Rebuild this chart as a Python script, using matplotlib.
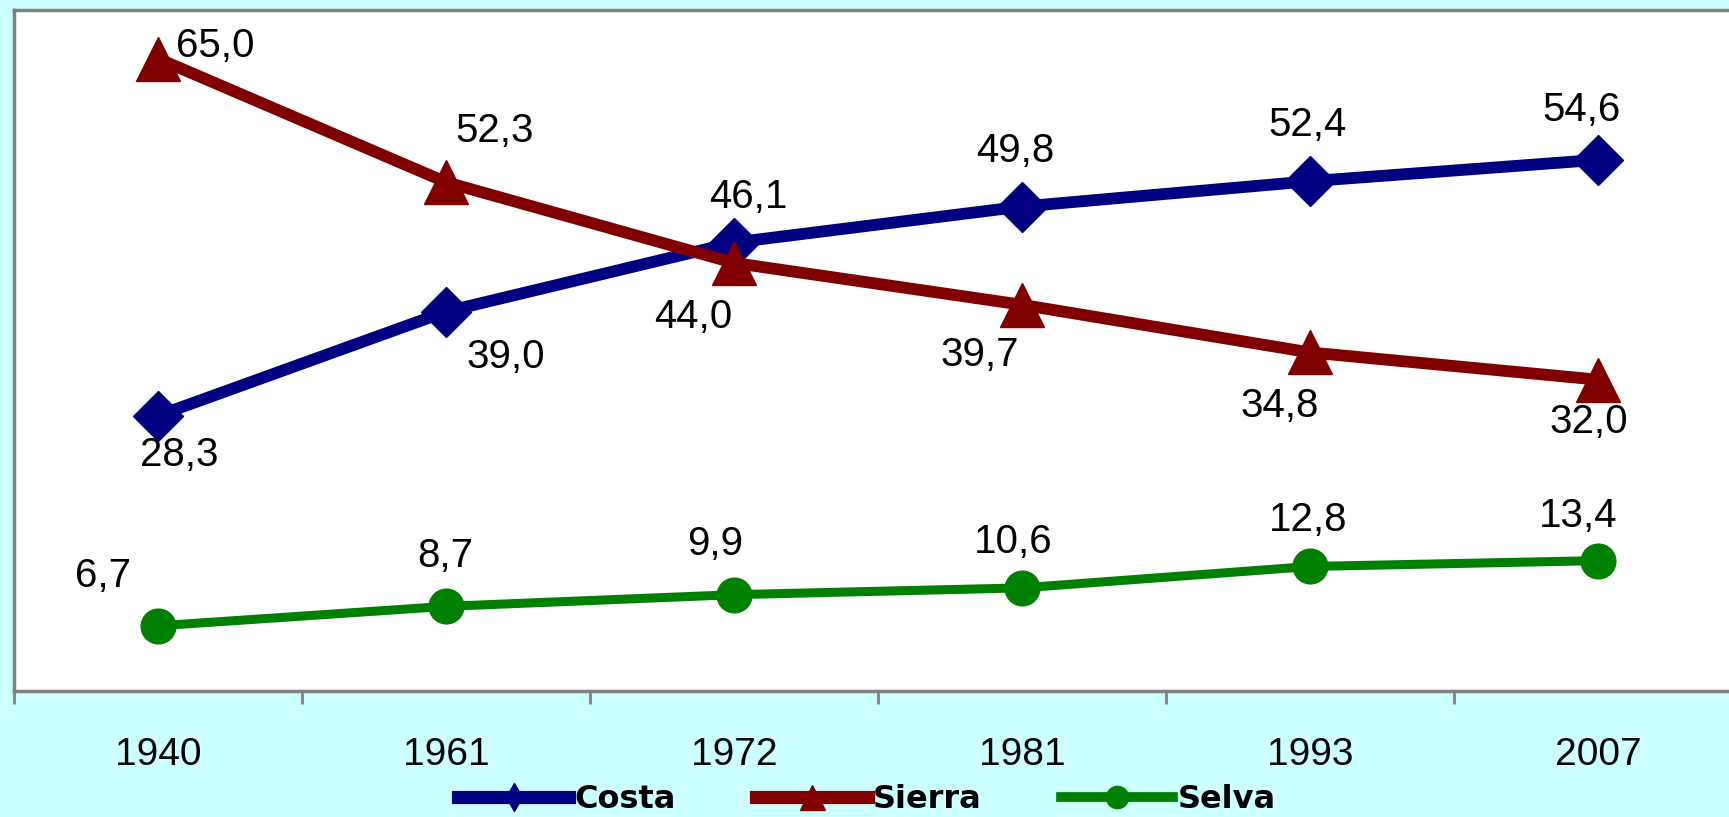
import matplotlib
matplotlib.use("Agg")
import matplotlib.pyplot as plt
from matplotlib.lines import Line2D

years = ["1940", "1961", "1972", "1981", "1993", "2007"]
costa = [28.3, 39.0, 46.1, 49.8, 52.4, 54.6]
sierra = [65.0, 52.3, 44.0, 39.7, 34.8, 32.0]
selva = [6.7, 8.7, 9.9, 10.6, 12.8, 13.4]

# label offsets in pixels (styling)
off_costa = [(21, -39), (60, -45), (14, 46), (-7, 56), (-2, 56), (-17, 50)]
off_sierra = [(57, 13), (49, 51), (-41, -54), (-42, -50), (-30, -54), (-9, -42)]
off_selva = [(-55, 50), (-1, 50), (-19, 51), (-9, 46), (-2, 46), (-20, 45)]

BG = "#CCFFFF"
plt.rcParams['font.family'] = ['Liberation Sans', 'DejaVu Sans']

fig = plt.figure(figsize=(17.29, 8.17), dpi=100, facecolor=BG)
ax = fig.add_axes([14/1729, 1 - 691/817, 1728/1729, (691 - 10)/817])
ax.set_facecolor("white")

x = list(range(len(years)))
series = [
    ("Costa", costa, "#000080", "D", 25, 8.5, off_costa),
    ("Sierra", sierra, "#800000", "^", 32, 8.5, off_sierra),
    ("Selva", selva, "#008000", "o", 25, 6.5, off_selva),
]
for name, vals, col, mk, ms, lw, offs in series:
    ax.plot(x, vals, color=col, lw=lw, marker=mk, ms=ms, mfc=col, mec=col,
            zorder=3)
    for xi, v, (dx, dy) in zip(x, vals, offs):
        ax.annotate(f"{v:.1f}".replace(".", ","), (xi, v), xytext=(dx, dy),
                    textcoords="offset pixels", ha="center", va="center",
                    fontsize=29, color="black", zorder=4)

ax.set_xlim(-0.5, len(years) - 0.5)
ax.set_ylim(0, 70)
ax.set_yticks([])
ax.set_xticks(x)
ax.set_xticklabels(years, fontsize=28)
ax.set_xticks([i - 0.5 for i in range(len(years) + 1)], minor=True)
ax.tick_params(axis='x', which='major', length=0, pad=33)
ax.tick_params(axis='x', which='minor', length=9, width=2, color="#808080", direction='out')
for s in ax.spines.values():
    s.set_color("#808080")
    s.set_linewidth(2.5)

handles = [
    Line2D([], [], color="#000080", lw=9.5, marker="d", ms=14),
    Line2D([], [], color="#800000", lw=9.5, marker="^", ms=18),
    Line2D([], [], color="#008000", lw=7, marker="o", ms=16),
]
fig.legend(handles, ["Costa", "Sierra", "Selva"], loc="center",
           bbox_to_anchor=(867/1729, 1 - 800/817), ncol=3, frameon=False,
           prop={'family': 'DejaVu Sans', 'weight': 'bold', 'size': 23},
           handlelength=3.5, handletextpad=0.16, columnspacing=2.5, borderpad=0,
           borderaxespad=0)

fig.savefig("out.png", dpi=100, facecolor=BG)
